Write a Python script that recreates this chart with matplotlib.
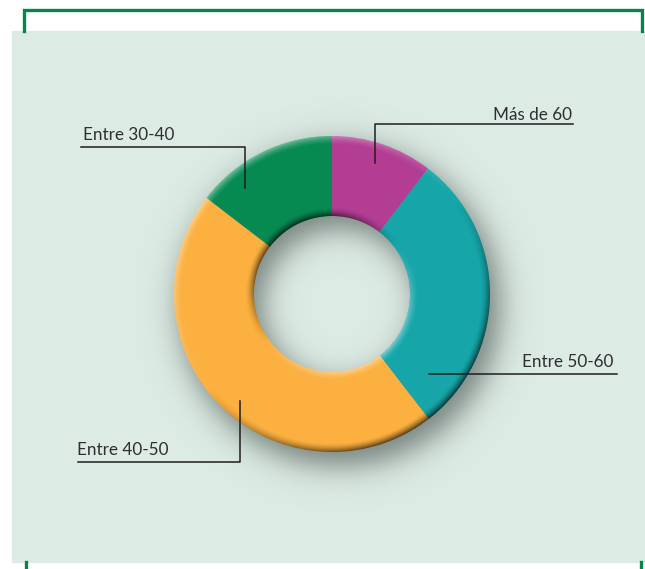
import matplotlib as mpl
mpl.use("Agg")
import matplotlib.pyplot as plt
import numpy as np
from matplotlib.patches import Rectangle

# share of each age group, clockwise from 12 o'clock
labels = ["Más de 60", "Entre 50-60", "Entre 40-50", "Entre 30-40"]
values = [10.4, 29.1, 45.9, 14.6]
colors = ["#b23d93", "#16a5a8", "#fbb040", "#078a52"]

W, H = 645, 569
cx, cy = 332, H - 294      # donut centre (data coords, y up)
R_out, ring = 158, 80
R_in = R_out - ring


def Y(y):  # image row -> data y
    return H - y


fig = plt.figure(figsize=(W / 100, H / 100), dpi=100)
ax = fig.add_axes([0, 0, 1, 1])

# panel + green frame ticks
ax.add_patch(Rectangle((12, Y(562)), 633, 531, color="#ddebe5", zorder=0))
green = "#08854f"
ax.plot([24, 24, 642, 642], [Y(31), Y(10), Y(10), Y(31)], color=green, lw=2.4,
        solid_joinstyle="miter", zorder=1)
ax.plot([25.5, 25.5], [Y(562), Y(569)], color=green, lw=2.4, zorder=1)
ax.plot([641, 641], [Y(562), Y(569)], color=green, lw=2.4, zorder=1)

# soft drop shadow + bevel computed on a pixel grid around the ring
pad = 75
xs = np.arange(cx - R_out - pad, cx + R_out + pad, 1.0) + 0.5
ys = np.arange(cy - R_out - pad, cy + R_out + pad, 1.0) + 0.5
X, Yg = np.meshgrid(xs, ys)
ext = [xs[0] - 0.5, xs[-1] + 0.5, ys[0] - 0.5, ys[-1] + 0.5]

dxs, dys = X - (cx + 8), Yg - (cy - 12)
rs = np.hypot(dxs, dys)
d = np.maximum(rs - (R_out + 2), (R_in - 2) - rs)
sh_a = 0.62 / (1 + np.exp(d / 9.0))
shadow = np.zeros(X.shape + (4,))
shadow[..., :3] = np.array([0.22, 0.27, 0.25])
shadow[..., 3] = sh_a
ax.imshow(shadow, extent=ext, origin="lower", zorder=1.5, interpolation="bilinear")

ax.pie(values, colors=colors, startangle=90, counterclock=False,
       center=(cx, cy), radius=R_out,
       wedgeprops=dict(width=ring, linewidth=0, zorder=2), frame=True)

# bevel: light from upper left
dx, dy = X - cx, Yg - cy
r = np.hypot(dx, dy)
ux, uy = dx / np.maximum(r, 1e-6), dy / np.maximum(r, 1e-6)
Lx, Ly = -0.6, 0.8
bev = 9.0
w_out = np.clip(1 - (R_out - r) / bev, 0, 1) ** 1.6
w_in = np.clip(1 - (r - R_in) / bev, 0, 1) ** 1.6
s = w_out * (ux * Lx + uy * Ly) + w_in * (-(ux * Lx + uy * Ly))
inside = np.clip(np.minimum(R_out - r, r - R_in) + 0.5, 0, 1)
bevel = np.zeros(X.shape + (4,))
pos = s > 0
bevel[pos, :3] = 1.0
bevel[..., 3] = np.where(pos, s * 0.45, -s * 0.7) * inside
ax.imshow(bevel, extent=ext, origin="lower", zorder=3, interpolation="bilinear")

# leader lines and labels
lc = "#1e1e1e"
tc = "#2e2e2e"
fs = 12.3
tkw = dict(va="baseline", fontsize=fs, family="Lato", color=tc, zorder=4)
ax.plot([375, 375, 573], [Y(163), Y(124), Y(124)], color=lc, lw=1.1, zorder=4)
ax.text(572, Y(120), labels[0], ha="right", **tkw)

ax.plot([429, 617], [Y(374), Y(374)], color=lc, lw=1.1, zorder=4)
ax.text(613, Y(367), labels[1], ha="right", **tkw)

ax.plot([240, 240, 78], [Y(401), Y(462), Y(462)], color=lc, lw=1.1, zorder=4)
ax.text(77, Y(455), labels[2], ha="left", **tkw)

ax.plot([245, 245, 81], [Y(188), Y(147), Y(147)], color=lc, lw=1.1, zorder=4)
ax.text(83, Y(140), labels[3], ha="left", **tkw)

ax.set_xlim(0, W)
ax.set_ylim(0, H)
ax.set_aspect("equal")
ax.axis("off")
fig.savefig("out.png", dpi=100, facecolor="white")
